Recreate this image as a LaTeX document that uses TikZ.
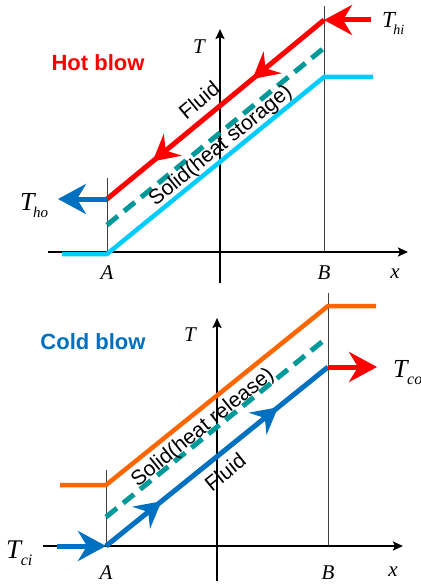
\documentclass[tikz,border=0pt]{standalone}
\usepackage{fontspec}
\setmainfont{Liberation Serif}
\newfontfamily\arialf{Liberation Sans}
\usetikzlibrary{arrows.meta,decorations.markings}
\definecolor{hred}{RGB}{255,0,0}
\definecolor{cblue}{RGB}{0,112,192}
\definecolor{ccyan}{RGB}{0,204,255}
\definecolor{cteal}{RGB}{0,153,153}
\definecolor{corange}{RGB}{255,102,0}
% #1 size of T, #2 size of subscript, #3 kern, #4 subscript
\newcommand{\Tlab}[4]{\fontsize{#1}{#1}\selectfont\textit{T}\kern#3\raisebox{-7pt}{\fontsize{#2}{#2}\selectfont\textit{#4}}}
\tikzset{
  axis/.style={line width=2pt,-{Stealth[length=10pt,width=9pt,inset=2pt]}},
  guide/.style={line width=1pt,black!75},
  big/.style={-{Stealth[length=28pt,width=30pt,inset=9pt]},line width=5pt},
  fluidline/.style={line width=5pt},
  solidline/.style={line width=5pt,cteal,dash pattern=on 14pt off 8pt},
  wallline/.style={line width=4.5pt,line join=miter},
  axlab/.style={font=\fontsize{21}{23}\selectfont\itshape,inner sep=0pt},
  tlab/.style={anchor=base west,inner sep=0pt},
  curvelab/.style={font=\arialf\fontsize{21}{23}\selectfont,inner sep=0pt},
  blowlab/.style={font=\arialf\bfseries\fontsize{22}{24}\selectfont,inner sep=0pt},
  midarrows/.style 2 args={postaction={decorate,decoration={markings,
     mark=at position #1 with {\arrow{Stealth[length=26pt,width=28pt,inset=9pt]}},
     mark=at position #2 with {\arrow{Stealth[length=26pt,width=28pt,inset=9pt]}}}}}
}
\begin{document}
\begin{tikzpicture}[x=1pt,y=-1pt]
\useasboundingbox (0,0) rectangle (420,585);
% ---------------- top panel: hot blow
\coordinate (xL1) at (48,252);  \coordinate (xR1) at (408,252);
\coordinate (tB1) at (220,283); \coordinate (tT1) at (220,29);
\coordinate (Alo1) at (107,252); \coordinate (Ahi1) at (107,178);
\coordinate (Blo1) at (324,252); \coordinate (Bhi1) at (324,6);
\coordinate (redB) at (324,20); \coordinate (redA) at (107,199);
\coordinate (thiS) at (371,20); \coordinate (thoE) at (58,199);
\coordinate (tealA1) at (107,225); \coordinate (tealB1) at (324,48);
\coordinate (cy0) at (62,254); \coordinate (cy1) at (107,254);
\coordinate (cy2) at (324,77); \coordinate (cy3) at (373,77);

\draw[guide] (Alo1) -- (Ahi1);
\draw[guide] (Blo1) -- (Bhi1);
\draw[axis] (xL1) -- (xR1);
\draw[axis] (tB1) -- (tT1);
\draw[wallline,ccyan] (cy0) -- (cy1) -- (cy2) -- (cy3);
\draw[solidline] (tealA1) -- (tealB1);
\draw[fluidline,hred,midarrows={0.33}{0.79}] (redB) -- (redA);
\draw[big,hred] (thiS) -- (redB);
\draw[big,cblue] (redA) -- (thoE);

\node[axlab] (T1) at (199,47) {T};
\node[axlab] (A1) at (107,273) {A};
\node[axlab] (B1) at (324,273) {B};
\node[axlab] (x1) at (395,274) {x};
\node[tlab] (Thi) at (382,28) {\Tlab{23}{14}{-3pt}{hi}};
\node[tlab] (Tho) at (20,210) {\Tlab{26}{15}{-3pt}{ho}};
\node[blowlab,text=hred] (hot) at (98,63) {Hot blow};
\node[curvelab,rotate=39.7] (fl1) at (199,100) {Fluid};
\node[curvelab,rotate=39.2] (so1) at (221,146) {Solid(heat storage)};

% ---------------- bottom panel: cold blow
\coordinate (xL2) at (43,546);  \coordinate (xR2) at (403,546);
\coordinate (tB2) at (217,581); \coordinate (tT2) at (217,318);
\coordinate (Alo2) at (106,546); \coordinate (Ahi2) at (106,470);
\coordinate (Blo2) at (328,546); \coordinate (Bhi2) at (328,293);
\coordinate (blA) at (106,546); \coordinate (blB) at (328,367);
\coordinate (tciS) at (57,546); \coordinate (tcoE) at (377,367);
\coordinate (tealA2) at (106,517); \coordinate (tealB2) at (328,337);
\coordinate (or0) at (60,485); \coordinate (or1) at (106,485);
\coordinate (or2) at (328,306); \coordinate (or3) at (376,306);

\draw[guide] (Alo2) -- (Ahi2);
\draw[guide] (Blo2) -- (Bhi2);
\draw[axis] (xL2) -- (xR2);
\draw[axis] (tB2) -- (tT2);
\draw[wallline,corange] (or0) -- (or1) -- (or2) -- (or3);
\draw[solidline] (tealA2) -- (tealB2);
\draw[fluidline,cblue,midarrows={0.25}{0.775}] (blA) -- (blB);
\draw[big,cblue] (tciS) -- (blA);
\draw[big,hred] (blB) -- (tcoE);

\node[axlab] (T2) at (190,335) {T};
\node[axlab] (A2) at (106,573) {A};
\node[axlab] (B2) at (328,573) {B};
\node[axlab] (x2) at (393,572) {x};
\node[tlab] (Tci) at (6,558) {\Tlab{27}{16}{-2pt}{ci}};
\node[tlab] (Tco) at (393,377) {\Tlab{26}{16}{-2pt}{co}};
\node[blowlab,text=cblue] (cold) at (93,342) {Cold blow};
\node[curvelab,rotate=38.9] (so2) at (203,428) {Solid(heat release)};
\node[curvelab,rotate=38.9] (fl2) at (225,472) {Fluid};
\end{tikzpicture}
\end{document}
